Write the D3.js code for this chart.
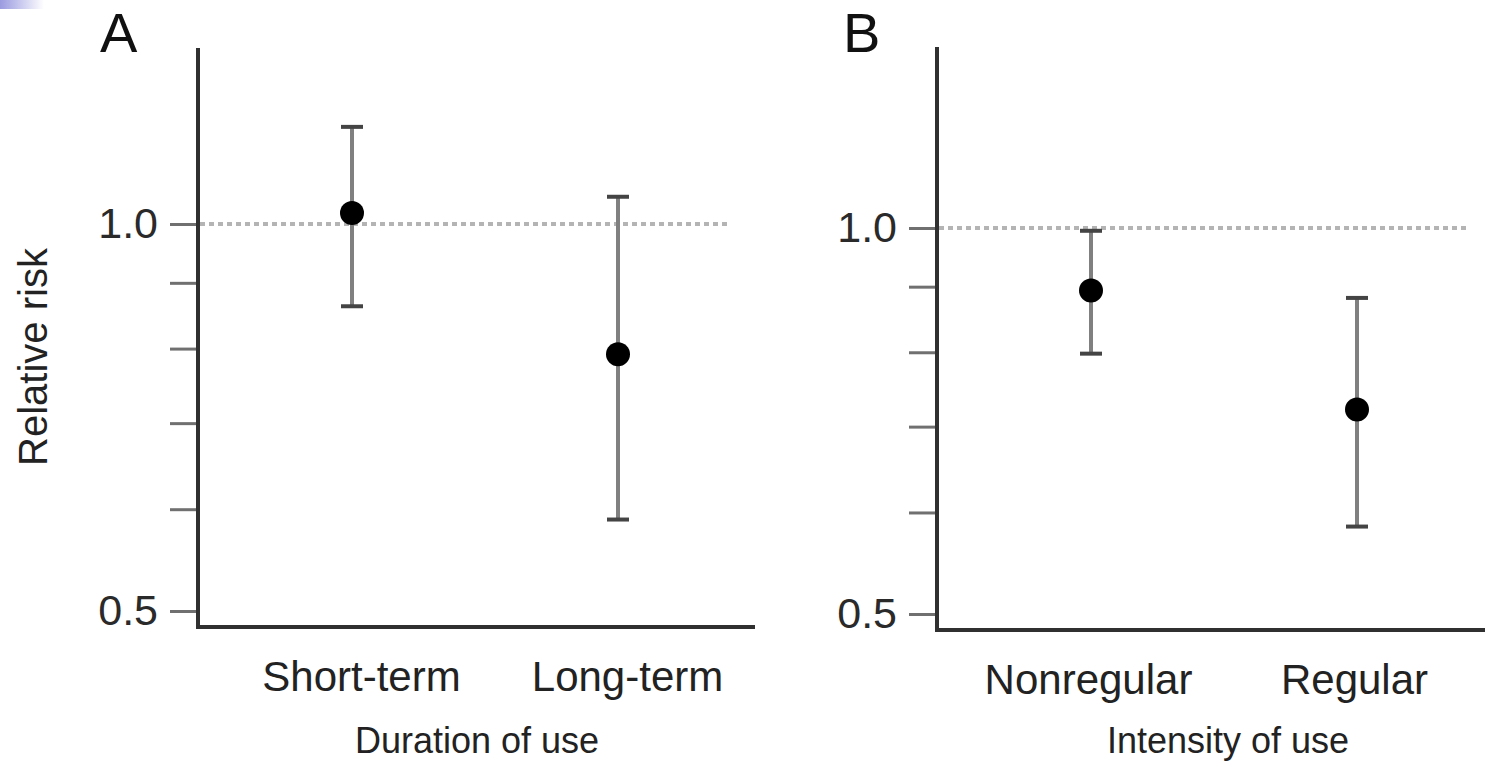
<!DOCTYPE html>
<html>
<head>
<meta charset="utf-8">
<script src="https://cdn.jsdelivr.net/npm/d3@7"></script>
<style>
  body { margin: 0; background: #fff; }
  svg { display: block; font-family: "Liberation Sans", Arial, sans-serif; }
</style>
</head>
<body>
<div id="chart"></div>
<script>
// data
const panelLetters = ["A", "B"];
const xTitles = ["Duration of use", "Intensity of use"];
const yTitle = "Relative risk";

const catsA = ["Short-term", "Long-term"];
const estA = [1.02, 0.792];
const lowA = [0.863, 0.589];
const highA = [1.19, 1.05];

const catsB = ["Nonregular", "Regular"];
const estB = [0.894, 0.722];
const lowB = [0.798, 0.585];
const highB = [0.995, 0.882];

const yTicks = [0.5, 0.6, 0.7, 0.8, 0.9, 1.0];
const yTickLabels = { 0.5: "0.5", 1: "1.0" };
const refValue = 1.0;

// layout for each panel (pixel positions)
const panels = [
  { cats: catsA, est: estA, low: lowA, high: highA, letter: panelLetters[0], title: xTitles[0],
    ax: 198, top: 48, bottom: 627, xEnd: 755, y05: 611, y10: 224, refEnd: 730,
    pts: [352, 618], labelDx: 9, titleX: 477, letterX: 100 },
  { cats: catsB, est: estB, low: lowB, high: highB, letter: panelLetters[1], title: xTitles[1],
    ax: 937, top: 47, bottom: 630, xEnd: 1485, y05: 614, y10: 228, refEnd: 1470,
    pts: [1091, 1357], labelDx: -3, titleX: 1228, letterX: 843 }
];

const W = 1485, H = 762;
const svg = d3.select("#chart").append("svg")
  .attr("width", W)
  .attr("height", H);

// leftover slide decoration in the corner
const grad = svg.append("defs").append("linearGradient").attr("id", "corner");
grad.append("stop").attr("offset", "0%").attr("stop-color", "#9a9ae0");
grad.append("stop").attr("offset", "100%").attr("stop-color", "#fff");
svg.append("rect").attr("x", 0).attr("y", 0).attr("width", 44).attr("height", 9).attr("fill", "url(#corner)");

// y axis title (only once, left side)
svg.append("text")
  .attr("transform", "translate(47,357) rotate(-90)")
  .attr("text-anchor", "middle")
  .attr("font-size", 40)
  .attr("fill", "#222")
  .text(yTitle);

panels.forEach(p => {
  const y = d3.scaleLog().domain([0.5, 1.0]).range([p.y05, p.y10]);
  const x = d3.scalePoint().domain(p.cats).range(p.pts);
  const g = svg.append("g");

  // reference line at 1.0
  g.append("line")
    .attr("x1", p.ax + 2).attr("x2", p.refEnd)
    .attr("y1", y(refValue)).attr("y2", y(refValue))
    .attr("stroke", "#b4b4b4")
    .attr("stroke-width", 4)
    .attr("stroke-dasharray", "5,4");

  // y axis ticks
  const yAxis = d3.axisLeft(y)
    .tickValues(yTicks)
    .tickSize(28)
    .tickPadding(12)
    .tickFormat(d => yTickLabels[d] || "");
  const ya = g.append("g")
    .attr("transform", `translate(${p.ax},0)`)
    .call(yAxis);
  ya.select(".domain").remove();
  ya.selectAll(".tick line").attr("stroke", "#707070").attr("stroke-width", 3);
  ya.selectAll(".tick text")
    .attr("font-size", 43)
    .attr("fill", "#2a2a2a")
    .attr("font-family", "Liberation Sans, Arial, sans-serif");

  // x axis categories
  const xAxis = d3.axisBottom(x).tickSize(0).tickPadding(0);
  const xa = g.append("g")
    .attr("transform", `translate(${p.labelDx},${p.bottom + 34})`)
    .call(xAxis);
  xa.select(".domain").remove();
  xa.selectAll(".tick text")
    .attr("dy", "0.71em")
    .attr("font-size", 42)
    .attr("fill", "#222")
    .attr("font-family", "Liberation Sans, Arial, sans-serif");

  // frame lines
  g.append("line")
    .attr("x1", p.ax).attr("x2", p.ax)
    .attr("y1", p.top).attr("y2", p.bottom + 2)
    .attr("stroke", "#303030").attr("stroke-width", 4);
  g.append("line")
    .attr("x1", p.ax - 2).attr("x2", p.xEnd)
    .attr("y1", p.bottom).attr("y2", p.bottom)
    .attr("stroke", "#303030").attr("stroke-width", 4);

  const rows = p.cats.map((c, i) => ({ c, est: p.est[i], low: p.low[i], high: p.high[i] }));

  // error bars
  g.selectAll(".whisker").data(rows).enter().append("line")
    .attr("class", "whisker")
    .attr("x1", d => x(d.c)).attr("x2", d => x(d.c))
    .attr("y1", d => y(d.high)).attr("y2", d => y(d.low))
    .attr("stroke", "#808080").attr("stroke-width", 4);
  ["high", "low"].forEach(k => {
    g.selectAll(".cap-" + k).data(rows).enter().append("line")
      .attr("class", "cap-" + k)
      .attr("x1", d => x(d.c) - 11).attr("x2", d => x(d.c) + 11)
      .attr("y1", d => y(d[k])).attr("y2", d => y(d[k]))
      .attr("stroke", "#444").attr("stroke-width", 4);
  });

  // point estimates
  g.selectAll(".dot").data(rows).enter().append("circle")
    .attr("class", "dot")
    .attr("cx", d => x(d.c))
    .attr("cy", d => y(d.est))
    .attr("r", 12)
    .attr("fill", "#000");

  // axis title and panel letter
  g.append("text")
    .attr("x", p.titleX).attr("y", 753)
    .attr("text-anchor", "middle")
    .attr("font-size", 36)
    .attr("fill", "#222")
    .text(p.title);
  g.append("text")
    .attr("x", p.letterX).attr("y", 52)
    .attr("font-size", 56)
    .attr("fill", "#111")
    .text(p.letter);
});
</script>
</body>
</html>
